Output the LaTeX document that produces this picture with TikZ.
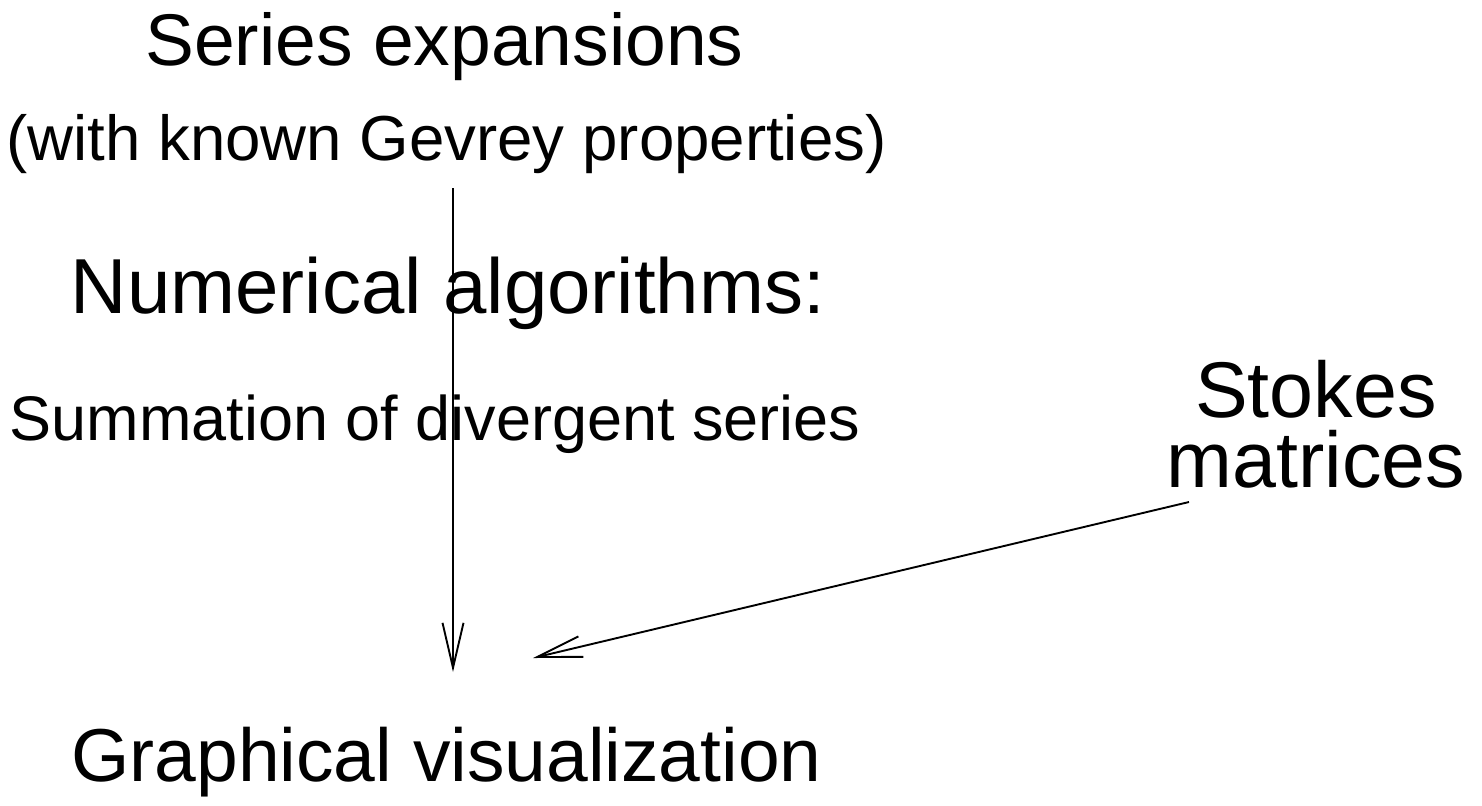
\documentclass[tikz,border=0pt]{standalone}
\usepackage{fontspec}
\setmainfont{Liberation Sans}
\usetikzlibrary{arrows.meta}
\tikzset{
  lbl/.style={inner sep=0pt, anchor=base, align=center},
  arr/.style={line width=0.95pt, -{Straight Barb[length=22.5pt,width=10.5pt,line width=0.95pt]}}
}
\begin{document}
\begin{tikzpicture}[x=0.5pt,y=-0.5pt]
\useasboundingbox (0,0) rectangle (1482,805);
\node[lbl, font=\fontsize{36.6}{40}\selectfont] (series) at (444.5,65) {Series expansions};
\node[lbl, font=\fontsize{31.8}{36}\selectfont] (gevrey) at (446.5,160) {(with known Gevrey properties)};
\node[lbl, font=\fontsize{39}{40}\selectfont] (numer) at (448,313) {Numerical algorithms:};
\node[lbl, font=\fontsize{31.5}{36}\selectfont] (summ) at (435,440) {Summation of divergent series};
\node[lbl, font=\fontsize{39.5}{35}\selectfont] (stokes) at (1316,487) {Stokes\\matrices};
\node[lbl, font=\fontsize{37.5}{40}\selectfont] (graph) at (446.5,781) {Graphical visualization};
\coordinate (vstart) at (453,188);
\coordinate (vend) at (453,672);
\coordinate (dstart) at (1189,502);
\coordinate (dend) at (533,658);
\draw[arr] (vstart) -- (vend);
\draw[arr] (dstart) -- (dend);
\end{tikzpicture}
\end{document}
